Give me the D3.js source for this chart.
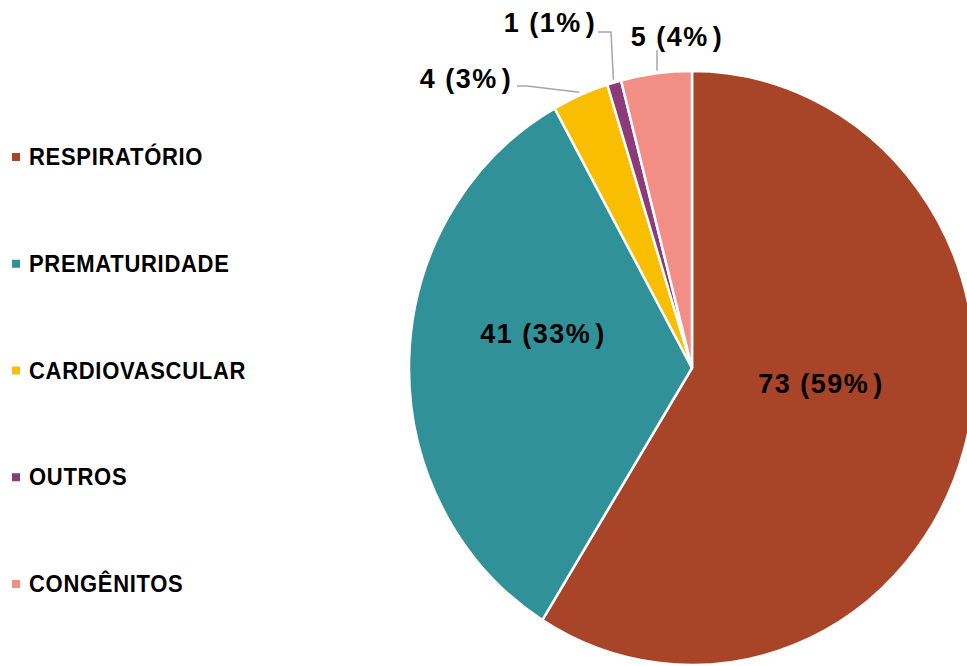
<!DOCTYPE html>
<html>
<head>
<meta charset="utf-8">
<script src="https://cdn.jsdelivr.net/npm/d3@7"></script>
<style>
  body { margin: 0; background: #fff; }
  text { font-family: "Liberation Sans", Arial, sans-serif; font-weight: bold; fill: #000; }
</style>
</head>
<body>
<div id="chart"></div>
<script>
// data
var categories = ["RESPIRATÓRIO", "PREMATURIDADE", "CARDIOVASCULAR", "OUTROS", "CONGÊNITOS"];
var values = [73, 41, 4, 1, 5];
var colors = ["#a84428", "#309198", "#f9be00", "#8c3a78", "#f28e85"];

var width = 967, height = 666;
var cx = 692, cy = 368;
var r = 283;
var stretch = 297 / 283; // the pie in the picture is a bit taller than wide

var svg = d3.select("#chart")
    .append("svg")
    .attr("width", width)
    .attr("height", height);

var total = d3.sum(values);
var data = values.map(function (v, i) {
    return { name: categories[i], value: v, color: colors[i], pct: Math.round(v / total * 100) };
});

var pie = d3.pie()
    .sort(null)
    .value(function (d) { return d.value; });
var arcs = pie(data);

var arc = d3.arc().innerRadius(0).outerRadius(r);

var g = svg.append("g")
    .attr("transform", "translate(" + cx + "," + cy + ") scale(1," + stretch + ")");

g.selectAll(".slice")
    .data(arcs)
    .enter().append("path")
    .attr("class", "slice")
    .attr("d", arc)
    .style("fill", function (d) { return d.data.color; })
    .style("stroke", "#fff")
    .style("stroke-width", 2.5)
    .attr("vector-effect", "non-scaling-stroke");

// point on the rim for a slice (screen coords)
var rim = function (d, k) {
    var a = (d.startAngle + d.endAngle) / 2;
    return [cx + r * k * Math.sin(a), cy - r * k * Math.cos(a) * stretch];
};

// label placement, as excel put them
var labelPos = [
    { x: 821, y: 393, leader: null },
    { x: 543, y: 343, leader: null },
    { x: 466, y: 88, leader: [[517, 86], [527, 86]] },
    { x: 550, y: 32, leader: [[598, 32], [611, 32]] },
    { x: 677, y: 46, leader: [[657, 50]] }
];

var line = d3.line();
arcs.forEach(function (d, i) {
    var p = labelPos[i];
    if (p.leader) {
        var pts = p.leader.slice();
        var end = rim(d, 1.01);
        if (pts.length == 1) end[0] = pts[0][0];
        pts.push(end);
        svg.append("path")
            .attr("d", line(pts))
            .style("fill", "none")
            .style("stroke", "#a6a6a6")
            .style("stroke-width", 1.5);
    }
    var t = svg.append("text")
        .attr("transform", "translate(" + p.x + "," + p.y + ") scale(1,1.05)")
        .attr("text-anchor", "middle")
        .style("font-size", "27px")
        .style("letter-spacing", "1.5px");
    t.append("tspan").text(d.data.value + " (" + d.data.pct + "%");
    t.append("tspan").attr("dx", 4).text(")");
});

// legend
var ly = d3.scalePoint()
    .domain(categories)
    .range([157, 584]);

var legend = svg.selectAll(".legend")
    .data(data)
    .enter().append("g")
    .attr("class", "legend")
    .attr("transform", function (d) { return "translate(0," + ly(d.name) + ")"; });

legend.append("rect")
    .attr("x", 12)
    .attr("y", -4)
    .attr("width", 8)
    .attr("height", 8)
    .style("fill", function (d) { return d.color; });

legend.append("text")
    .attr("transform", "translate(29,8) scale(1,1.05)")
    .style("font-size", "22px")
    .style("letter-spacing", "0.7px")
    .text(function (d) { return d.name; });
</script>
</body>
</html>
